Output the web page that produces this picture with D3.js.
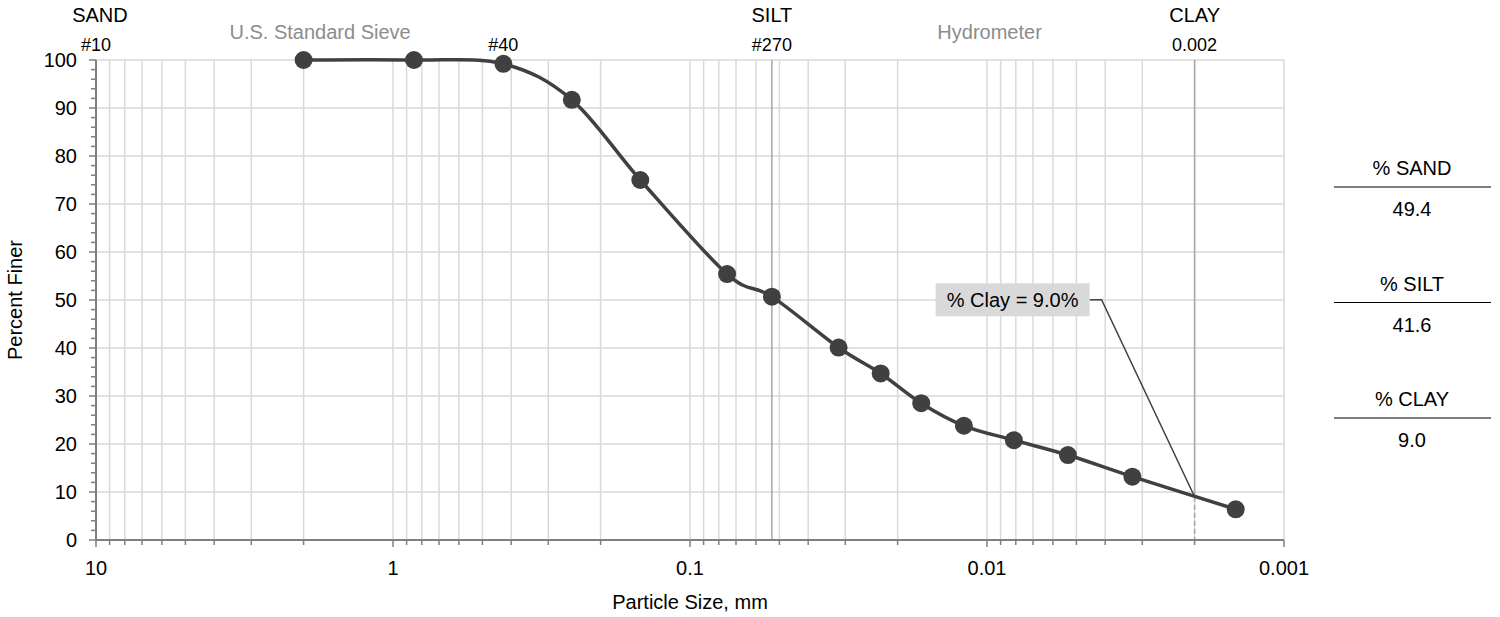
<!DOCTYPE html>
<html><head><meta charset="utf-8">
<script src="https://cdn.jsdelivr.net/npm/d3@7"></script>
<style>
html,body{margin:0;padding:0;background:#fff;}
text{font-family:"Liberation Sans",Arial,sans-serif;}
</style></head>
<body><svg id="chart" width="1500" height="617"></svg>
<script>
// ---- data ----
const particleSize = [2.0, 0.85, 0.425, 0.25, 0.147, 0.075, 0.053, 0.0316, 0.0228, 0.01665, 0.01196, 0.00812, 0.00534, 0.00324, 0.001454];
const percentFiner = [100, 100, 99.2, 91.7, 75.0, 55.4, 50.7, 40.1, 34.7, 28.5, 23.8, 20.8, 17.7, 13.2, 6.4];
const xTickValues = [10, 1, 0.1, 0.01, 0.001];
const xTickLabels = ["10", "1", "0.1", "0.01", "0.001"];
const yTickValues = [0, 10, 20, 30, 40, 50, 60, 70, 80, 90, 100];
const zoneLabels = ["SAND", "SILT", "CLAY"];
const zoneAt = [9.7, 0.053, 0.002];
const sieveLabels = ["#10", "#40", "#270", "0.002"];
const sieveAt = [10, 0.425, 0.053, 0.002];
const methodLabels = ["U.S. Standard Sieve", "Hydrometer"];
const methodAt = [1.76, 0.0098];
const boundarySizes = [0.053, 0.002];
const clayLimit = 0.002;
const clayPercent = 9.0;
const summaryLabels = ["% SAND", "% SILT", "% CLAY"];
const summaryValues = ["49.4", "41.6", "9.0"];

// ---- layout ----
const svg = d3.select("#chart");
const L = 96, R = 1284, T = 60, B = 540;
const x = d3.scaleLog().domain([10, 0.001]).range([L, R]);
const y = d3.scaleLinear().domain([0, 100]).range([B, T]);
const FS = 20;

// gridlines
const gridX = x.ticks();
svg.append("g").selectAll("line").data(gridX).join("line")
  .attr("x1", d => x(d)).attr("x2", d => x(d)).attr("y1", T).attr("y2", B)
  .attr("stroke", "#d9d9d9").attr("stroke-width", 1.5);
svg.append("g").selectAll("line").data(yTickValues.filter(v => v > 0)).join("line")
  .attr("x1", L).attr("x2", R).attr("y1", d => y(d)).attr("y2", d => y(d))
  .attr("stroke", "#d9d9d9").attr("stroke-width", 1.5);

// boundary lines (#270 and 0.002)
svg.append("line").attr("x1", x(boundarySizes[0])).attr("x2", x(boundarySizes[0]))
  .attr("y1", T).attr("y2", B).attr("stroke", "#a6a6a6").attr("stroke-width", 1.5);
svg.append("line").attr("x1", x(boundarySizes[1])).attr("x2", x(boundarySizes[1]))
  .attr("y1", T).attr("y2", y(clayPercent)).attr("stroke", "#a6a6a6").attr("stroke-width", 1.5);
svg.append("line").attr("x1", x(clayLimit)).attr("x2", x(clayLimit))
  .attr("y1", y(clayPercent)).attr("y2", B).attr("stroke", "#a6a6a6").attr("stroke-width", 1.5)
  .attr("stroke-dasharray", "5,3");

// axes
const axisColor = "#7f7f7f";
svg.append("line").attr("x1", L).attr("x2", R).attr("y1", B).attr("y2", B)
  .attr("stroke", axisColor).attr("stroke-width", 2);
svg.append("line").attr("x1", L).attr("x2", L).attr("y1", T).attr("y2", B)
  .attr("stroke", axisColor).attr("stroke-width", 2);
// x ticks
svg.append("g").selectAll("line").data(gridX).join("line")
  .attr("x1", d => x(d)).attr("x2", d => x(d)).attr("y1", B)
  .attr("y2", d => xTickValues.some(v => Math.abs(Math.log10(v) - Math.log10(d)) < 1e-6) ? B + 7 : B + 5)
  .attr("stroke", axisColor).attr("stroke-width", 1.5);
// y ticks (major every 10, minor every 2)
const yMinor = d3.range(0, 101, 2);
svg.append("g").selectAll("line").data(yMinor).join("line")
  .attr("x1", d => d % 10 === 0 ? L - 7 : L - 5).attr("x2", L)
  .attr("y1", d => y(d)).attr("y2", d => y(d))
  .attr("stroke", axisColor).attr("stroke-width", 1.5);

// tick labels
svg.append("g").selectAll("text").data(yTickValues).join("text")
  .attr("x", L - 19).attr("y", d => y(d)).attr("dy", "0.35em")
  .attr("text-anchor", "end").attr("font-size", FS).attr("fill", "#000").text(d => d);
svg.append("g").selectAll("text").data(xTickValues).join("text")
  .attr("x", d => x(d)).attr("y", B + 35)
  .attr("text-anchor", "middle").attr("font-size", FS).attr("fill", "#000")
  .text((d, i) => xTickLabels[i]);

// axis titles
svg.append("text").attr("x", (L + R) / 2).attr("y", 609).attr("text-anchor", "middle")
  .attr("font-size", FS).text("Particle Size, mm");
svg.append("text").attr("transform", `translate(22,${(T + B) / 2}) rotate(-90)`)
  .attr("text-anchor", "middle").attr("font-size", FS).text("Percent Finer");

// top labels
svg.append("g").selectAll("text").data(zoneLabels).join("text")
  .attr("x", (d, i) => x(zoneAt[i])).attr("y", 22).attr("text-anchor", "middle")
  .attr("font-size", FS).attr("fill", "#000").text(d => d);
svg.append("g").selectAll("text").data(sieveLabels).join("text")
  .attr("x", (d, i) => x(sieveAt[i])).attr("y", 51).attr("text-anchor", "middle")
  .attr("font-size", FS - 2).attr("fill", "#000").text(d => d);
svg.append("g").selectAll("text").data(methodLabels).join("text")
  .attr("x", (d, i) => x(methodAt[i])).attr("y", 39).attr("text-anchor", "middle")
  .attr("font-size", FS).attr("fill", "#8c8c8c").text(d => d);

// curve
const pts = particleSize.map((s, i) => [x(s), y(percentFiner[i])]);
svg.append("path").attr("d", d3.line().curve(d3.curveCardinal.tension(0))(pts))
  .attr("fill", "none").attr("stroke", "#404040").attr("stroke-width", 3.5);
svg.append("g").selectAll("circle").data(pts).join("circle")
  .attr("cx", d => d[0]).attr("cy", d => d[1]).attr("r", 9).attr("fill", "#404040");

// clay annotation
const cx = x(clayLimit), cy = y(clayPercent);
const boxR = cx - 105, boxW = 154, boxH = 33, boxCY = y(clayPercent) - 197;
svg.append("polyline")
  .attr("points", `${boxR},${boxCY} ${boxR + 12},${boxCY} ${cx},${cy}`)
  .attr("fill", "none").attr("stroke", "#404040").attr("stroke-width", 1.5);
svg.append("rect").attr("x", boxR - boxW).attr("y", boxCY - boxH / 2)
  .attr("width", boxW).attr("height", boxH).attr("fill", "#d9d9d9");
svg.append("text").attr("x", boxR - boxW / 2).attr("y", boxCY).attr("dy", "0.35em")
  .attr("text-anchor", "middle").attr("font-size", FS).attr("fill", "#000")
  .text(`% Clay = ${clayPercent.toFixed(1)}%`);

// summary table
const tableX = 1412, tableTop = 175, rowH = 115.5;
summaryLabels.forEach((lab, i) => {
  const by = tableTop + i * rowH;
  svg.append("text").attr("x", tableX).attr("y", by).attr("text-anchor", "middle")
    .attr("font-size", FS).attr("fill", "#000").text(lab);
  svg.append("line").attr("x1", 1334).attr("x2", 1491).attr("y1", by + 12).attr("y2", by + 12)
    .attr("stroke", "#000").attr("stroke-width", 1.2);
  svg.append("text").attr("x", tableX).attr("y", by + 41).attr("text-anchor", "middle")
    .attr("font-size", FS).attr("fill", "#000").text(summaryValues[i]);
});
</script></body></html>
